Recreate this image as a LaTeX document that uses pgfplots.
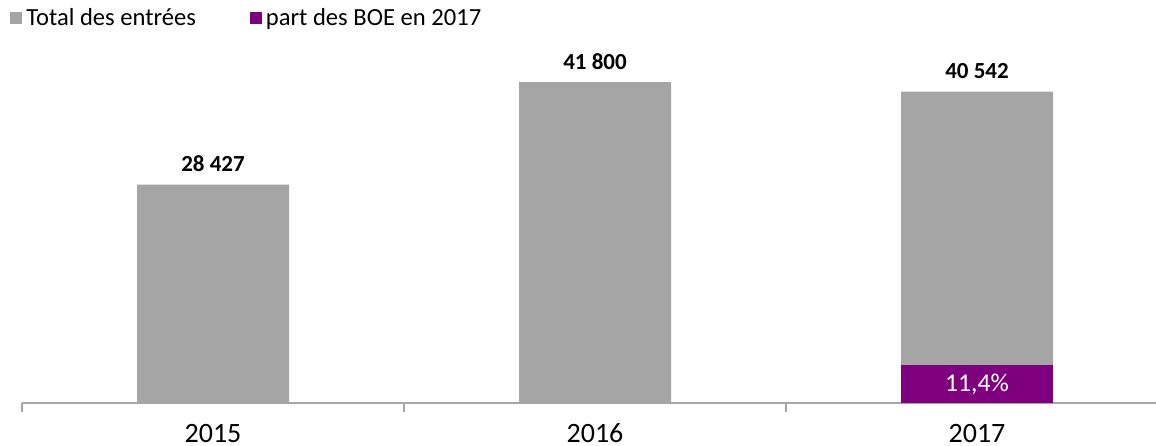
\documentclass[border=0pt]{standalone}
\usepackage{fontspec}
\setmainfont{Carlito}
\usepackage{pgfplots}
\pgfplotsset{compat=1.18}
\definecolor{barGray}{HTML}{A5A5A5}
\definecolor{barPurple}{HTML}{7F007F}
\definecolor{axGray}{HTML}{A6A6A6}
\begin{document}
\begin{tikzpicture}
\useasboundingbox (0,0) rectangle (578pt,222.5pt);
\begin{axis}[
  at={(11pt,21pt)}, anchor=south west,
  scale only axis, width=573pt, height=176.5pt,
  xmin=-0.5, xmax=2.5, ymin=0, ymax=45970,
  enlargelimits=false, clip=false,
  axis x line=bottom, axis y line=none,
  x axis line style={-, draw=axGray, line width=0.7pt},
  xtick={-0.5,0.5,1.5,2.5},
  x tick label as interval,
  xticklabels={2015,2016,2017},
  xtick style={draw=axGray, line width=0.7pt},
  tick align=outside, major tick length=4.5pt,
  xticklabel style={font=\fontsize{14}{16}\selectfont, anchor=base, yshift=-15pt},
  ybar, bar width=76pt,
  legend style={draw=none, fill=none, font=\fontsize{12.3}{14}\selectfont,
    at={(axis description cs:-0.0105,1.0907)}, anchor=west, inner sep=0pt,
    legend columns=2, /tikz/every even column/.append style={column sep=25pt}},
  legend cell align=left,
  legend image code/.code={\fill[#1] (0pt,-3pt) rectangle (6pt,3pt);},
]
\addplot[fill=barGray, draw=none, bar shift=0pt,
  point meta=explicit symbolic,
  nodes near coords,
  every node near coord/.append style={font=\fontsize{11.5}{14}\selectfont\bfseries, text=black, anchor=base, yshift=6.5pt}]
  coordinates {(0,28427) [28 427] (1,41800) [41 800] (2,40542) [40 542]};
\addlegendentry{Total des entrées}
\addplot[fill=barPurple, draw=none, bar shift=0pt,
  point meta=explicit symbolic,
  nodes near coords,
  every node near coord/.append style={font=\fontsize{12.8}{14}\selectfont, text=white, anchor=center, yshift=-9.5pt}]
  coordinates {(2,4950) [11,4\%]};
\addlegendentry{part des BOE en 2017}
\end{axis}
\end{tikzpicture}
\end{document}
